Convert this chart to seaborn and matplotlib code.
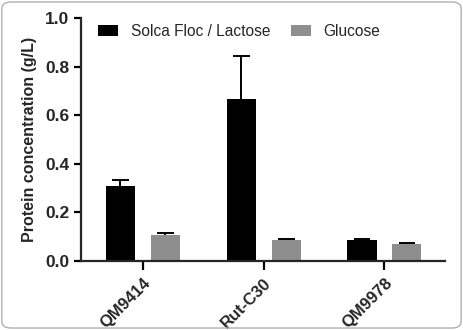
import matplotlib
matplotlib.use("Agg")
import matplotlib.pyplot as plt
import numpy as np
import pandas as pd
import seaborn as sns
from matplotlib.patches import FancyBboxPatch

# Data
strains = ["QM9414", "Rut-C30", "QM9978"]
media = ["Solca Floc / Lactose", "Glucose"]
solca_mean = [0.31, 0.667, 0.086]
solca_err = [0.025, 0.178, 0.005]
glucose_mean = [0.107, 0.087, 0.072]
glucose_err = [0.01, 0.004, 0.004]

df = pd.DataFrame({
    "strain": strains * 2,
    "medium": [media[0]] * 3 + [media[1]] * 3,
    "protein": solca_mean + glucose_mean,
})
errs = solca_err + glucose_err

sns.set_style("ticks")
plt.rcParams["font.family"] = ["Liberation Sans", "DejaVu Sans"]

fig = plt.figure(figsize=(4.63, 3.30), dpi=100)
ax = fig.add_axes([0.175, 0.209, 0.786, 0.736])

sns.barplot(data=df, x="strain", y="protein", hue="medium", order=strains,
            hue_order=media, palette=["#000000", "#8e8e8e"], width=0.744,
            gap=0.355, errorbar=None, linewidth=0, ax=ax, legend=True)

# upper-only error bars with caps, placed on the bar patches
for bar, e in zip(ax.patches[:6], errs):
    xc = bar.get_x() + bar.get_width() / 2
    h = bar.get_height()
    ax.vlines(xc, h, h + e, color="black", linewidth=1.4, zorder=1)
    ax.hlines(h + e, xc - 0.07, xc + 0.07, color="black", linewidth=1.4, zorder=1)

ax.set_ylim(0, 1.0)
ax.set_xlim(-0.51, 2.5)
ax.set_yticks([0.0, 0.2, 0.4, 0.6, 0.8, 1.0])
ax.set_yticklabels(["0.0", "0.2", "0.4", "0.6", "0.8", "1.0"], fontweight="bold", fontsize=12.5)
ax.set_xticks(range(len(strains)))
ax.set_xticklabels(strains, rotation=45, ha="right", rotation_mode="anchor",
                   fontweight="bold", fontsize=12)
ax.set_xlabel("")
ax.set_ylabel("Protein concentration (g/L)", fontweight="bold", fontsize=11.5, labelpad=6)
ax.tick_params(axis="both", direction="out", length=5, width=1.6, color="black")
ax.tick_params(axis="x", length=6.5, pad=4)
for s in ["left", "bottom"]:
    ax.spines[s].set_linewidth(1.6)
sns.despine(ax=ax)

leg = ax.legend(loc="upper left", bbox_to_anchor=(0.03, 1.0), borderaxespad=0,
                ncol=2, frameon=False, fontsize=11.2, handlelength=1.3,
                handleheight=0.7, columnspacing=1.3, handletextpad=0.8)

border = FancyBboxPatch((0.004, 0.006), 0.992, 0.988, boxstyle="round,pad=0,rounding_size=0.02",
                        transform=fig.transFigure, fill=False, edgecolor="#b0b0b0", linewidth=1)
fig.patches.append(border)

fig.savefig("out.png", dpi=100)
